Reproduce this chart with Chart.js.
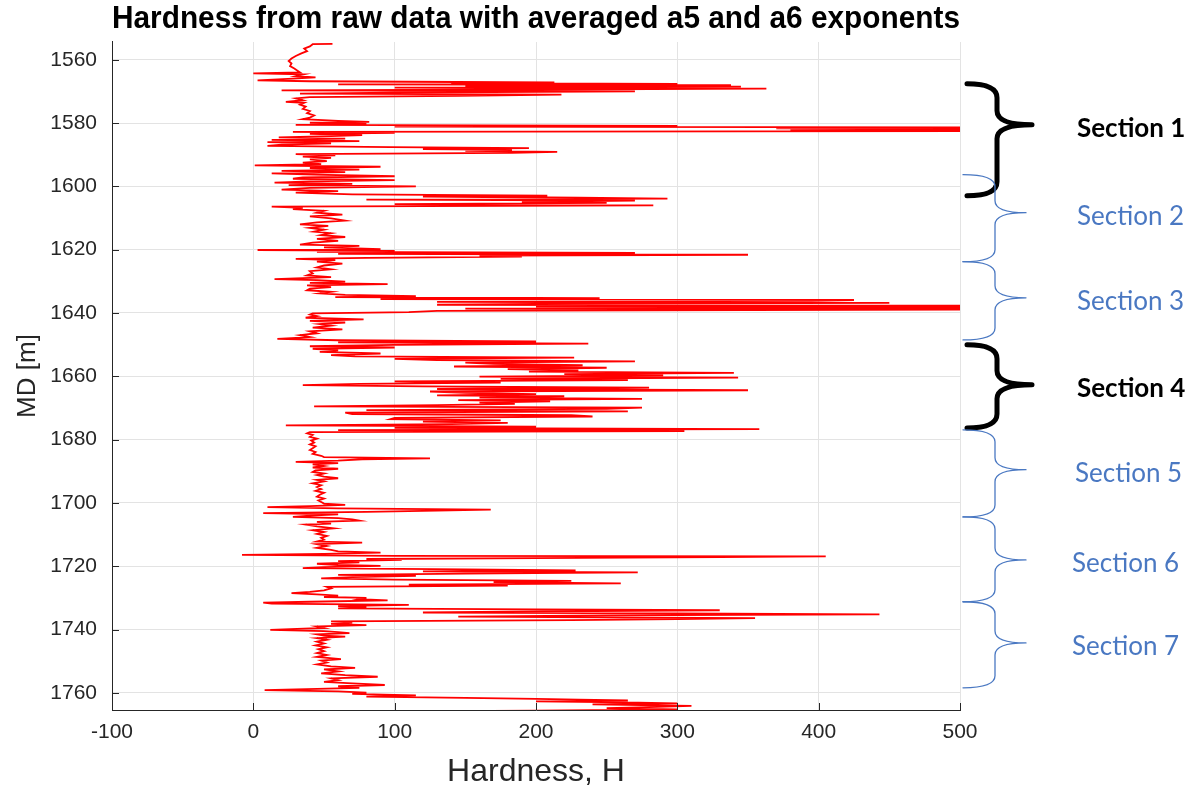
<!DOCTYPE html>
<html>
<head>
<meta charset="utf-8">
<script src="https://cdn.jsdelivr.net/npm/chart.js@4.4.1/dist/chart.umd.min.js"></script>
<style>
  html, body { margin: 0; padding: 0; background: #fff; }
  #wrap { width: 1192px; height: 791px; }
</style>
</head>
<body>
<div id="wrap"><canvas id="chart" width="1192" height="791"></canvas></div>
<script>
const depthM = [
  1555.0, 1555.1, 1555.8, 1556.5, 1557.3, 1558.0, 1558.8, 1559.6, 1560.4, 1561.2,
  1562.0, 1562.8, 1563.4, 1564.0, 1564.3, 1564.6, 1565.2, 1565.6, 1566.0, 1566.5,
  1566.8, 1567.2, 1567.4, 1567.6, 1567.8, 1568.0, 1568.3, 1568.5, 1568.8, 1569.1,
  1569.4, 1569.7, 1570.0, 1570.4, 1570.7, 1571.0, 1571.4, 1571.8, 1572.2, 1572.8,
  1573.3, 1573.6, 1574.2, 1574.8, 1575.5, 1576.2, 1576.9, 1577.6, 1578.3, 1578.8,
  1579.3, 1579.6, 1579.9, 1580.3, 1580.6, 1580.9, 1581.1, 1581.4, 1581.7, 1581.9,
  1582.2, 1582.5, 1582.8, 1583.1, 1583.4, 1583.8, 1584.1, 1584.5, 1584.9, 1585.3,
  1585.7, 1586.0, 1586.4, 1586.8, 1587.2, 1587.6, 1587.9, 1588.2, 1588.5, 1588.8,
  1589.1, 1589.4, 1589.8, 1590.2, 1590.6, 1591.0, 1591.5, 1592.0, 1592.5, 1593.0,
  1593.4, 1593.8, 1594.2, 1594.7, 1595.1, 1595.5, 1595.9, 1596.3, 1596.8, 1597.2,
  1597.6, 1598.0, 1598.4, 1598.8, 1599.2, 1599.6, 1600.0, 1600.5, 1601.0, 1601.5,
  1602.0, 1602.5, 1602.9, 1603.2, 1603.6, 1603.9, 1604.2, 1604.5, 1604.9, 1605.2,
  1605.6, 1606.0, 1606.4, 1606.8, 1607.2, 1607.7, 1608.3, 1608.9, 1609.5, 1610.1,
  1610.8, 1611.4, 1612.0, 1612.5, 1613.1, 1613.7, 1614.3, 1614.8, 1615.4, 1616.0,
  1616.6, 1617.2, 1617.8, 1618.4, 1618.8, 1619.3, 1619.8, 1620.1, 1620.4, 1620.7,
  1621.0, 1621.3, 1621.6, 1621.9, 1622.2, 1622.6, 1622.9, 1623.3, 1623.8, 1624.4,
  1625.0, 1625.6, 1626.2, 1626.8, 1627.5, 1628.1, 1628.7, 1629.3, 1629.6, 1630.1,
  1630.5, 1630.9, 1631.3, 1631.8, 1632.3, 1632.8, 1633.3, 1633.8, 1634.3, 1634.7,
  1635.0, 1635.3, 1635.6, 1635.9, 1636.2, 1636.5, 1636.8, 1637.1, 1637.4, 1637.7,
  1638.0, 1638.3, 1638.6, 1638.9, 1639.3, 1639.7, 1640.1, 1640.5, 1641.0, 1641.5,
  1642.0, 1642.5, 1643.0, 1643.5, 1644.0, 1644.6, 1645.2, 1645.8, 1646.4, 1647.0,
  1647.6, 1648.2, 1648.6, 1649.0, 1649.3, 1649.7, 1650.1, 1650.5, 1650.9, 1651.3,
  1651.8, 1652.3, 1652.8, 1653.3, 1653.7, 1654.1, 1654.5, 1654.9, 1655.3, 1655.7,
  1656.1, 1656.5, 1656.9, 1657.3, 1657.7, 1658.1, 1658.5, 1658.9, 1659.3, 1659.7,
  1660.1, 1660.4, 1660.8, 1661.2, 1661.6, 1662.0, 1662.4, 1662.8, 1663.2, 1663.6,
  1664.0, 1664.4, 1664.8, 1665.2, 1665.6, 1666.0, 1666.3, 1666.7, 1667.1, 1667.5,
  1667.9, 1668.3, 1668.7, 1669.1, 1669.5, 1669.9, 1670.3, 1670.7, 1671.1, 1671.5,
  1671.9, 1672.3, 1672.7, 1673.1, 1673.5, 1673.9, 1674.3, 1674.7, 1675.1, 1675.5,
  1675.9, 1676.3, 1676.7, 1677.0, 1677.3, 1677.6, 1678.0, 1678.5, 1679.1, 1679.7,
  1680.3, 1680.9, 1681.5, 1682.1, 1682.7, 1683.3, 1683.9, 1684.5, 1685.1, 1685.5,
  1685.9, 1686.2, 1686.6, 1687.0, 1687.4, 1687.8, 1688.3, 1688.8, 1689.2, 1689.7,
  1690.2, 1690.7, 1691.2, 1691.7, 1692.2, 1692.7, 1693.2, 1693.8, 1694.4, 1695.0,
  1695.6, 1696.2, 1696.8, 1697.4, 1698.0, 1698.6, 1699.2, 1699.7, 1700.2, 1700.6,
  1701.0, 1701.3, 1701.7, 1702.1, 1702.4, 1702.8, 1703.2, 1703.6, 1704.0, 1704.4,
  1704.8, 1705.2, 1705.6, 1706.0, 1706.5, 1706.8, 1707.4, 1708.0, 1708.6, 1709.2,
  1709.8, 1710.4, 1711.0, 1711.6, 1712.2, 1712.5, 1713.0, 1713.6, 1714.2, 1714.8,
  1715.3, 1715.7, 1716.1, 1716.4, 1716.7, 1716.9, 1717.1, 1717.4, 1717.7, 1718.0,
  1718.4, 1718.8, 1719.2, 1719.6, 1719.9, 1720.3, 1720.6, 1721.0, 1721.3, 1721.6,
  1721.9, 1722.3, 1722.7, 1723.0, 1723.4, 1723.8, 1724.2, 1724.6, 1725.0, 1725.4,
  1725.8, 1726.1, 1726.5, 1727.0, 1727.6, 1728.1, 1728.5, 1728.9, 1729.3, 1729.7,
  1730.0, 1730.4, 1730.8, 1731.2, 1731.5, 1731.8, 1732.2, 1732.6, 1733.0, 1733.3,
  1733.6, 1733.9, 1734.3, 1734.6, 1734.9, 1735.2, 1735.5, 1735.9, 1736.2, 1736.4,
  1736.7, 1737.0, 1737.4, 1737.8, 1738.2, 1738.6, 1739.0, 1739.5, 1740.1, 1740.5,
  1740.8, 1741.1, 1741.5, 1741.9, 1742.2, 1742.7, 1743.2, 1743.8, 1744.4, 1745.0,
  1745.6, 1746.2, 1746.8, 1747.4, 1748.0, 1748.6, 1749.3, 1749.8, 1750.4, 1751.0,
  1751.6, 1752.1, 1752.6, 1753.2, 1753.8, 1754.4, 1754.9, 1755.4, 1756.0, 1756.5,
  1757.0, 1757.5, 1757.9, 1758.4, 1759.1, 1759.5, 1759.9, 1760.3, 1760.8, 1761.2,
  1761.6, 1761.9, 1762.1, 1762.4, 1762.7, 1763.0, 1763.3, 1763.6, 1764.1, 1764.5,
  1764.8, 1765.2, 1765.6, 1766.0
];
const hardnessH = [
  56, 42, 40, 36, 38, 34, 30, 27, 25, 27,
  26, 29, 31, 33, 0, 36, 30, 44, 28, 3,
  40, 213, 140, 300, 60, 338, 150, 345, 100, 363,
  200, 20, 270, 100, 33, 218, 145, 40, 30, 35,
  23, 36, 33, 37, 35, 40, 38, 43, 40, 35,
  60, 82, 40, 80, 30, 300, 100, 560, 370, 600,
  380, 540, 28, 100, 40, 77, 55, 18, 65, 13,
  75, 10, 55, 20, 10, 97, 195, 120, 183, 150,
  215, 183, 30, 58, 35, 55, 40, 52, 35, 48,
  1, 90, 40, 75, 20, 65, 13, 43, 100, 35,
  28, 100, 40, 15, 70, 25, 115, 40, 20, 60,
  30, 70, 208, 120, 230, 293, 80, 270, 190, 250,
  100, 283, 13, 35, 28, 50, 45, 63, 40, 55,
  65, 45, 33, 53, 40, 50, 43, 55, 48, 65,
  45, 60, 42, 33, 75, 50, 90, 3, 100, 45,
  270, 60, 350, 160, 190, 80, 30, 58, 45, 63,
  50, 45, 55, 40, 42, 38, 55, 15, 45, 65,
  40, 95, 38, 55, 40, 38, 55, 47, 65, 115,
  58, 245, 90, 425, 395, 130, 450, 200, 130, 530,
  200, 560, 150, 540, 130, 110, 42, 40, 45, 37,
  78, 40, 65, 47, 55, 42, 63, 40, 45, 33,
  40, 17, 60, 200, 60, 237, 100, 40, 100, 42,
  60, 47, 90, 55, 72, 227, 100, 130, 270, 150,
  170, 233, 142, 250, 180, 230, 195, 340, 220, 290,
  160, 343, 175, 265, 100, 175, 75, 35, 120, 280,
  130, 350, 125, 150, 200, 130, 220, 160, 275, 145,
  210, 160, 185, 130, 43, 275, 250, 80, 265, 65,
  70, 225, 240, 100, 97, 175, 120, 180, 140, 23,
  200, 100, 358, 60, 305, 40, 38, 42, 40, 45,
  41, 43, 40, 44, 42, 40, 44, 42, 48, 50,
  125, 77, 60, 30, 60, 42, 50, 42, 60, 44,
  42, 50, 45, 50, 60, 45, 50, 42, 48, 45,
  48, 44, 50, 47, 45, 50, 46, 48, 50, 65,
  40, 10, 60, 168, 130, 80, 7, 60, 40, 28,
  60, 70, 75, 45, 55, 37, 45, 57, 42, 50,
  45, 52, 48, 50, 45, 77, 45, 52, 45, 55,
  60, 90, 50, -8, 100, 405, 330, 200, 80, 105,
  60, 75, 45, 60, 90, 50, 35, 150, 228, 120,
  272, 150, 60, 115, 70, 48, 100, 225, 170, 260,
  110, 180, 52, 55, 50, 40, 27, 45, 60, 50,
  80, 75, 95, 40, 7, 13, 110, 60, 80, 60,
  200, 330, 180, 120, 300, 443, 250, 145, 280, 355,
  300, 225, 55, 70, 55, 80, 45, 50, 12, 50,
  60, 68, 45, 50, 65, 45, 52, 45, 50, 44,
  52, 46, 50, 45, 52, 45, 62, 48, 52, 45,
  55, 72, 50, 60, 48, 65, 88, 55, 60, 50,
  70, 93, 60, 75, 8, 60, 80, 70, 115, 80,
  150, 200, 230, 265, 200, 263, 300, 240, 310, 280,
  250, 300, 200, 50
];

const xTicks = [-100, 0, 100, 200, 300, 400, 500];
const yTicks = [1560, 1580, 1600, 1620, 1640, 1660, 1680, 1700, 1720, 1740, 1760];

// brace annotations on the right: depth of top, tip and bottom
const sectionNames = ["Section 1", "Section 2", "Section 3", "Section 4", "Section 5", "Section 6", "Section 7"];
const sectionTop = [1567.6, 1596.3, 1623.8, 1650.0, 1676.9, 1704.4, 1731.2];
const sectionTip = [1580.5, 1608.3, 1635.2, 1662.7, 1689.5, 1718.0, 1744.2];
const sectionBottom = [1603.0, 1623.8, 1648.5, 1676.3, 1704.4, 1731.2, 1758.4];
const sectionBold = [true, false, false, true, false, false, false];
const sectionLabelX = [1077, 1077, 1077, 1077, 1075, 1072, 1072];

const axisColor = "#262626";
const gridColor = "#e3e3e3";
const blue = "#4a78c2";

const bracePlugin = {
  id: "braces",
  afterDraw(chart) {
    const ctx = chart.ctx;
    const y = chart.scales.y;
    const x = chart.scales.x;
    const area = chart.chartArea;
    ctx.save();

    // inward tick marks, matlab style
    ctx.strokeStyle = axisColor;
    ctx.lineWidth = 1;
    ctx.beginPath();
    xTicks.forEach((v) => {
      const px = Math.round(x.getPixelForValue(v)) + 0.5;
      ctx.moveTo(px, area.bottom);
      ctx.lineTo(px, area.bottom - 7);
    });
    yTicks.forEach((v) => {
      const py = Math.round(y.getPixelForValue(v)) + 0.5;
      ctx.moveTo(area.left, py);
      ctx.lineTo(area.left + 7, py);
    });
    ctx.stroke();

    sectionNames.forEach((name, i) => {
      const t = y.getPixelForValue(sectionTop[i]);
      const m = y.getPixelForValue(sectionTip[i]);
      const b = y.getPixelForValue(sectionBottom[i]);
      const bold = sectionBold[i];
      const x0 = bold ? 967 : 963;
      const xm = bold ? 997 : 995;
      const xt = bold ? 1032 : 1026;
      const r = bold ? 14 : 12;
      ctx.strokeStyle = bold ? "#000" : blue;
      ctx.lineWidth = bold ? 5 : 1.3;
      ctx.lineCap = "round";
      ctx.lineJoin = "round";
      ctx.beginPath();
      ctx.moveTo(x0, t);
      ctx.quadraticCurveTo(xm, t, xm, t + r);
      ctx.lineTo(xm, m - r);
      ctx.quadraticCurveTo(xm, m, xt, m);
      ctx.quadraticCurveTo(xm, m, xm, m + r);
      ctx.lineTo(xm, b - r);
      ctx.quadraticCurveTo(xm, b, x0, b);
      ctx.stroke();

      ctx.fillStyle = bold ? "#000" : blue;
      ctx.font = (bold ? "bold " : "") + "26px Lato";
      ctx.textAlign = "left";
      ctx.textBaseline = "middle";
      ctx.fillText(name, sectionLabelX[i], m + 4);
    });
    ctx.restore();
  }
};

new Chart(document.getElementById("chart"), {
  type: "scatter",
  data: {
    datasets: [{
      data: depthM.map((d, i) => ({ x: hardnessH[i], y: d })),
      showLine: true,
      borderColor: "#ff0000",
      backgroundColor: "#ff0000",
      borderWidth: 1.8,
      pointRadius: 0,
      tension: 0
    }]
  },
  options: {
    responsive: false,
    animation: false,
    devicePixelRatio: 1,
    layout: { padding: { left: 0, right: 232, top: 0, bottom: 0 } },
    plugins: {
      legend: { display: false },
      tooltip: { enabled: false },
      title: {
        display: true,
        text: "Hardness from raw data with averaged a5 and a6 exponents",
        fullSize: false,
        color: "#000",
        font: { family: "Liberation Sans", size: 31, weight: "bold" },
        padding: { top: 1, bottom: 3.8 }
      }
    },
    scales: {
      x: {
        type: "linear",
        min: -100,
        max: 500,
        afterBuildTicks: (s) => { s.ticks = xTicks.map((v) => ({ value: v })); },
        afterFit: (s) => { s.height = 81; },
        grid: { color: gridColor, drawTicks: false },
        border: { color: axisColor, width: 1 },
        ticks: {
          color: axisColor,
          padding: 10,
          font: { family: "Liberation Sans", size: 21 },
          callback: (v) => String(v)
        },
        title: {
          display: true,
          text: "Hardness, H",
          color: axisColor,
          font: { family: "Liberation Sans", size: 32 },
          padding: { top: 0, bottom: 0 }
        }
      },
      y: {
        type: "linear",
        reverse: true,
        min: 1554.4,
        max: 1765.4,
        afterBuildTicks: (s) => { s.ticks = yTicks.map((v) => ({ value: v })); },
        afterFit: (s) => { s.width = 112; },
        grid: { color: gridColor, drawTicks: false },
        border: { color: axisColor, width: 1 },
        ticks: {
          color: axisColor,
          padding: 15,
          font: { family: "Liberation Sans", size: 21 },
          callback: (v) => String(v)
        },
        title: {
          display: true,
          text: "MD [m]",
          color: axisColor,
          font: { family: "Liberation Sans", size: 26 },
          padding: { top: 12, bottom: 0 }
        }
      }
    }
  },
  plugins: [bracePlugin]
});
</script>
</body>
</html>
